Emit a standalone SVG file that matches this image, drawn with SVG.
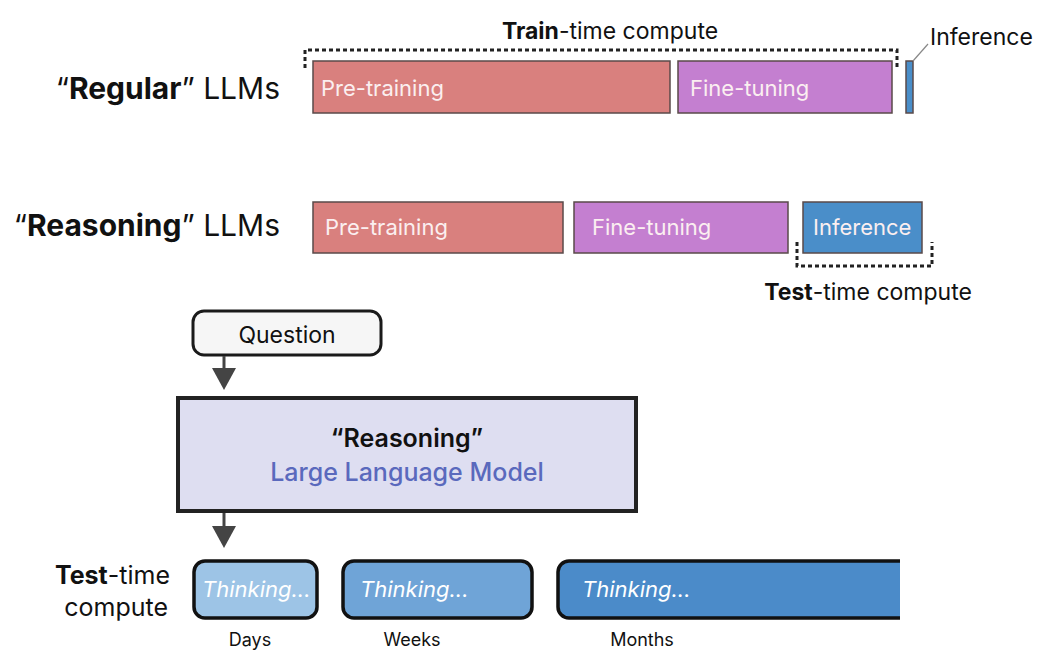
<svg xmlns="http://www.w3.org/2000/svg" width="1050" height="668" viewBox="0 0 1050 668">
<defs>
<style>
text{font-family:Inter,"Liberation Sans",sans-serif;}
.lbl{font-size:30px;fill:#111;}
.bar{stroke:#5a4a4a;stroke-width:1.5;}
.pre{fill:#d9807e;}
.fine{fill:#c47fd0;}
.inf{fill:#4a8ec9;}
.bt{font-size:22px;fill:#fbeff0;}
.dash{fill:none;stroke:#222;stroke-width:3;stroke-dasharray:4 3;}
.cap{font-size:23px;fill:#111;}
.think{stroke:#111;stroke-width:3.5;}
.tt{font-size:22px;fill:#fff;font-style:italic;}
.sm{font-size:18px;fill:#111;}
.conn{stroke:#444;stroke-width:3;fill:none;}
.head{fill:#444;}
</style>
<clipPath id="clip3"><rect x="540" y="540" width="360" height="100"/></clipPath>
</defs>
<rect width="1050" height="668" fill="#fff"/>

<g id="regular-label"><text class="lbl" x="280" y="99" text-anchor="end">“<tspan font-weight="bold">Regular</tspan>” LLMs</text></g>
<g id="reasoning-label"><text class="lbl" x="280" y="236" text-anchor="end">“<tspan font-weight="bold">Reasoning</tspan>” LLMs</text></g>

<g id="train-bracket">
<path class="dash" d="M305,68 V50 H897 V68"/>
<text class="cap" x="610" y="39" text-anchor="middle"><tspan font-weight="bold">Train</tspan>-time compute</text>
</g>
<g id="reg-pre"><rect class="bar pre" x="313" y="61" width="357" height="52"/><text class="bt" x="321" y="96">Pre-training</text></g>
<g id="reg-fine"><rect class="bar fine" x="678" y="61" width="214" height="52"/><text class="bt" x="690" y="96">Fine-tuning</text></g>
<g id="reg-inf"><rect class="bar inf" x="906" y="61" width="7" height="52"/></g>
<g id="inf-callout">
<line x1="913" y1="61" x2="928" y2="44" stroke="#888" stroke-width="1.2"/>
<text class="cap" x="930" y="45" font-size="22">Inference</text>
</g>

<g id="rea-pre"><rect class="bar pre" x="313" y="202" width="250" height="51"/><text class="bt" x="325" y="235">Pre-training</text></g>
<g id="rea-fine"><rect class="bar fine" x="574" y="202" width="214" height="51"/><text class="bt" x="592" y="235">Fine-tuning</text></g>
<g id="rea-inf"><rect class="bar inf" x="803" y="202" width="119" height="51"/><text class="bt" x="813" y="235">Inference</text></g>
<g id="test-bracket">
<path class="dash" d="M797,242 V266 H932 V242"/>
<text class="cap" x="868" y="300" text-anchor="middle"><tspan font-weight="bold">Test</tspan>-time compute</text>
</g>

<g id="question">
<rect x="193" y="311" width="188" height="44" rx="11" fill="#f6f6f6" stroke="#1a1a1a" stroke-width="3"/>
<text x="287" y="343" text-anchor="middle" font-size="23" fill="#111">Question</text>
</g>

<g id="llm">
<rect x="178" y="398" width="458" height="113" fill="#dedef1" stroke="#222" stroke-width="4"/>
<text x="407" y="447" text-anchor="middle" font-size="25" font-weight="600" fill="#111">“Reasoning”</text>
<text x="407" y="481" text-anchor="middle" font-size="25" font-weight="500" fill="#5a69bd">Large Language Model</text>
</g>

<g id="connectors">
<line class="conn" x1="224" y1="356" x2="224" y2="370"/>
<polygon class="head" points="212,368 236,368 224,390"/>
<line class="conn" x1="224" y1="513" x2="224" y2="528"/>
<polygon class="head" points="212,526 236,526 224,548"/>
</g>

<g id="ttc-label">
<text x="170" y="584" text-anchor="end" font-size="25" fill="#111"><tspan font-weight="bold">Test</tspan>-time</text>
<text x="168" y="616" text-anchor="end" font-size="25" fill="#111">compute</text>
</g>

<g id="think-days">
<rect class="think" x="194" y="561" width="123" height="57" rx="11" fill="#9dc4e6"/>
<text class="tt" x="202" y="597">Thinking...</text>
<text class="sm" x="250" y="646" text-anchor="middle">Days</text>
</g>
<g id="think-weeks">
<rect class="think" x="343" y="561" width="189" height="57" rx="11" fill="#6fa4d7"/>
<text class="tt" x="360" y="597">Thinking...</text>
<text class="sm" x="412" y="646" text-anchor="middle">Weeks</text>
</g>
<g id="think-months">
<rect class="think" x="558" y="561" width="380" height="57" rx="11" fill="#4b8bc9" clip-path="url(#clip3)"/>
<text class="tt" x="582" y="597">Thinking...</text>
<text class="sm" x="642" y="646" text-anchor="middle">Months</text>
</g>
</svg>
